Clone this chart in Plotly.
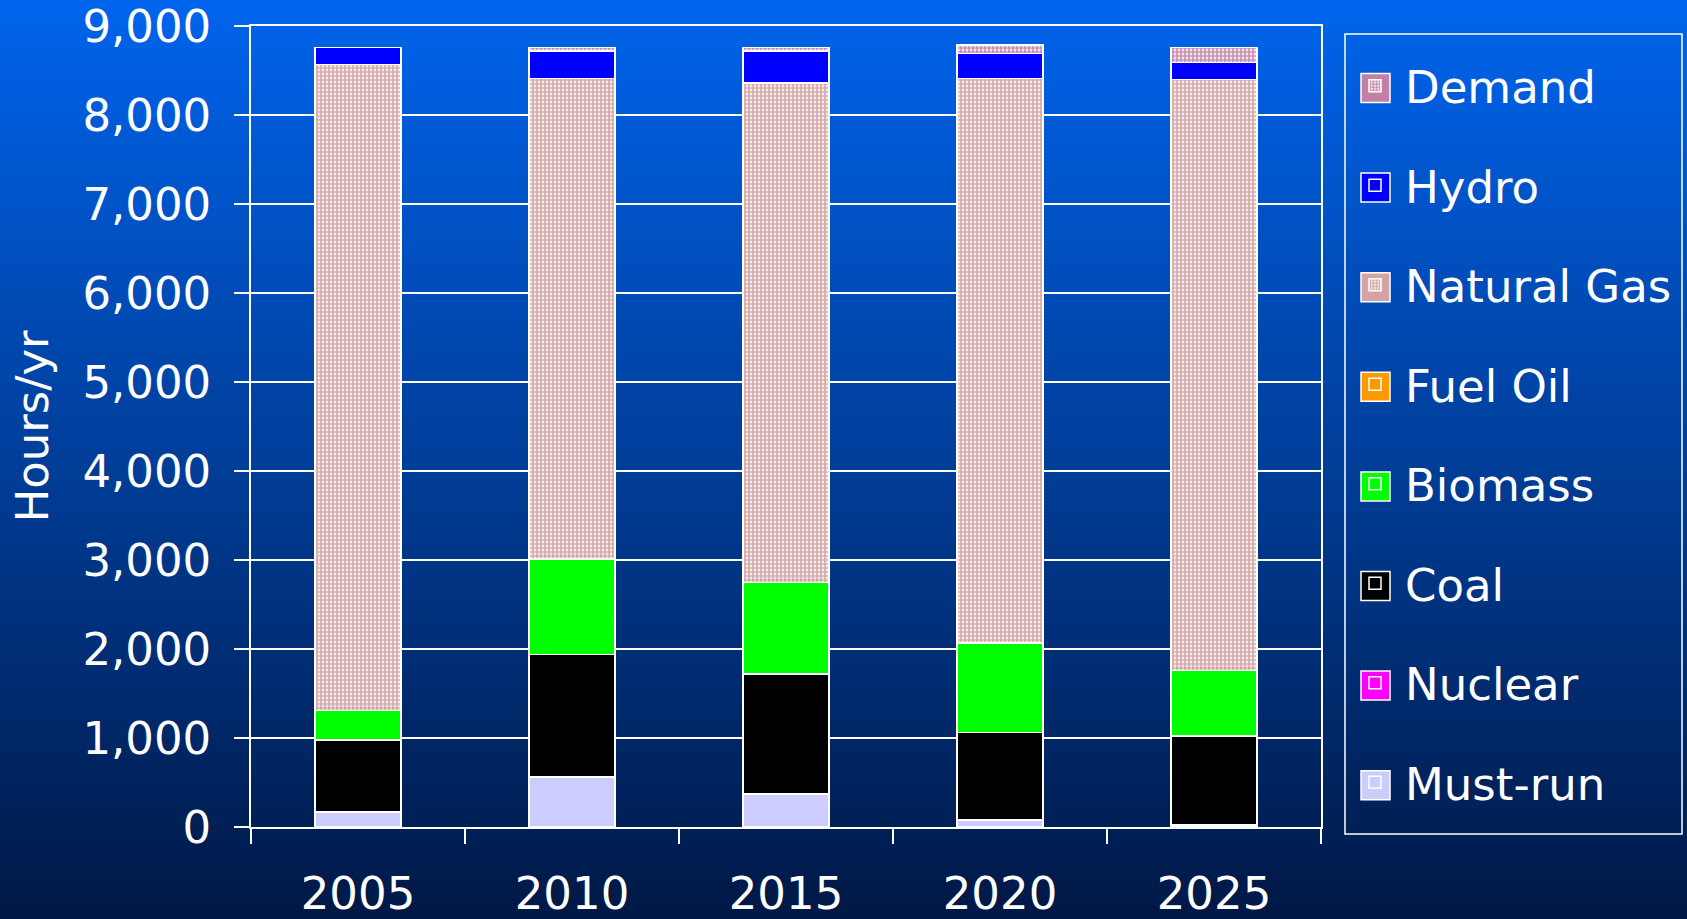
import plotly.graph_objects as go

years = ["2005", "2010", "2015", "2020", "2025"]
must_run = [170, 560, 370, 80, 20]
nuclear = [0, 0, 0, 0, 0]
coal = [810, 1380, 1350, 980, 1000]
biomass = [330, 1070, 1030, 1010, 740]
fuel_oil = [0, 0, 0, 0, 0]
natural_gas = [7260, 5400, 5610, 6340, 6640]
hydro = [190, 310, 360, 280, 190]
demand = [0, 40, 40, 94, 170]

NG_PAT = dict(shape=".", fgcolor="#a85454", bgcolor="#ffffff", size=4, solidity=0.7)
DM_PAT = dict(shape=".", fgcolor="#922462", bgcolor="#ffffff", size=4, solidity=0.7)

series = [
    ("Must-run", must_run, dict(color="#ccccff"), "#ccccff"),
    ("Nuclear", nuclear, dict(color="#ff00ff"), "#ff00ff"),
    ("Coal", coal, dict(color="#000000"), "#000000"),
    ("Biomass", biomass, dict(color="#00ff00"), "#00ff00"),
    ("Fuel Oil", fuel_oil, dict(color="#ff9900"), "#ff9900"),
    ("Natural Gas", natural_gas, dict(color="#ffffff", pattern=NG_PAT), "#d4a4a4"),
    ("Hydro", hydro, dict(color="#0000ff"), "#0000ff"),
    ("Demand", demand, dict(color="#ffffff", pattern=DM_PAT), "#c47fa4"),
]

fig = go.Figure()
nser = len(series)
for i, (name, vals, mk, _) in enumerate(series):
    mk = dict(mk)
    mk["line"] = dict(color="#ffffff", width=1.5)
    fig.add_trace(go.Bar(x=years, y=vals, name=name, marker=mk,
                         legendgroup=name, legendrank=nser - i))

W, H = 1687, 919
L, R, T, B = 251, 366, 26, 92
pw, ph = W - L - R, H - T - B

def px_x(v):
    return (v - L) / pw

def px_y(v):
    return 1 - (v - T) / ph

shapes = []
# gradient background bands
n = 92
top = (0, 100, 236)
bot = (0, 24, 70)
for i in range(n):
    f = i / (n - 1)
    c = tuple(int(round(top[k] + (bot[k] - top[k]) * f)) for k in range(3))
    y0px = i * H / n
    y1px = (i + 1) * H / n + 1
    shapes.append(dict(
        type="rect", xref="paper", yref="paper", layer="below",
        x0=px_x(0), x1=px_x(W), y0=px_y(y1px), y1=px_y(y0px),
        line=dict(width=0), fillcolor="rgb(%d,%d,%d)" % c,
    ))

# legend frame
shapes.append(dict(
    type="rect", xref="paper", yref="paper", layer="above",
    x0=px_x(1345), x1=px_x(1682), y0=px_y(834), y1=px_y(34),
    line=dict(color="#ffffff", width=1.5), fillcolor="rgba(0,0,0,0)",
))

# enlarged legend swatches behind the legend's own symbols
leg_step = 99.6
leg_first = 88
for j, (name, vals, mk, swatch) in enumerate(reversed(series)):
    cy = leg_first + j * leg_step
    shapes.append(dict(
        type="rect", xref="paper", yref="paper", layer="above",
        x0=px_x(1361), x1=px_x(1390), y0=px_y(cy + 14.5), y1=px_y(cy - 14.5),
        line=dict(color="#ffffff", width=1.5), fillcolor=swatch,
    ))

font = dict(family="DejaVu Sans", size=45, color="#ffffff")

fig.update_layout(
    width=W, height=H,
    margin=dict(l=L, r=R, t=T, b=B, autoexpand=False),
    barmode="stack", bargap=0.6,
    paper_bgcolor="#003080", plot_bgcolor="rgba(0,0,0,0)",
    font=font, shapes=shapes,
    showlegend=True,
    legend=dict(
        x=px_x(1345), xanchor="left", y=px_y(50), yanchor="top",
        borderwidth=0, bgcolor="rgba(0,0,0,0)",
        traceorder="grouped", tracegroupgap=38, font=font, itemwidth=50,
    ),
    xaxis=dict(
        type="category", showgrid=False, ticks="outside", tickson="boundaries",
        ticklen=15, tickcolor="#ffffff", tickwidth=1.5, showline=True,
        linecolor="#ffffff", linewidth=1.5, mirror=True, tickfont=font,
        ticklabelstandoff=26, ticklabeloverflow="allow",
    ),
    yaxis=dict(
        range=[0, 9000], tickvals=[0, 1000, 2000, 3000, 4000, 5000, 6000, 7000, 8000, 9000],
        tickformat=",d", showgrid=True, gridcolor="#ffffff", gridwidth=1.5,
        ticks="outside", ticklen=15, tickcolor="#ffffff", tickwidth=1.5,
        showline=True, linecolor="#ffffff", linewidth=1.5, mirror=True,
        tickfont=font, zeroline=False, ticklabelstandoff=14,
        ticklabeloverflow="allow",
        title=dict(text="Hours/yr", font=font, standoff=20),
    ),
)

fig.write_html("out.html", config={"displayModeBar": False},
               post_script="document.body.style.margin='0';document.body.style.padding='0';")
